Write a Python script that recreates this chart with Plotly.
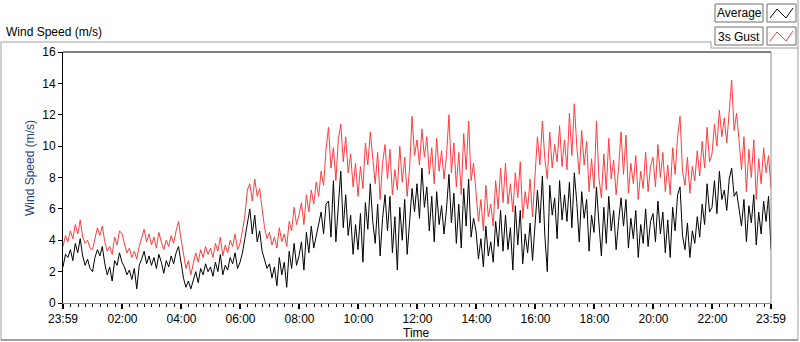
import plotly.graph_objects as go
import pandas as pd

# 5-minute samples from 23:59 (previous day) to 23:59, one row of 12 values per hour
gust_3s = [
    3.6, 4.3, 3.9, 4.6, 4.1, 5.0, 4.4, 5.3, 4.2, 3.8, 4.0, 3.5,
    3.4, 4.1, 4.8, 4.3, 4.9, 3.9, 3.3, 3.6, 3.1, 4.2, 3.7, 4.6,
    4.4, 3.8, 3.2, 3.5, 2.9, 3.3, 2.8, 3.6, 4.1, 4.7, 3.9, 4.4,
    3.7, 4.2, 3.5, 4.5, 3.9, 3.4, 4.0, 3.6, 4.3, 3.8, 4.6, 5.2,
    4.1, 3.0, 2.2, 2.7, 1.8, 2.5, 3.2, 2.6, 3.4, 2.9, 3.6, 3.1,
    3.5, 2.9, 3.8, 3.3, 4.2, 3.0, 3.7, 3.2, 4.0, 3.6, 4.4, 3.4,
    3.8, 4.6, 5.6, 7.2, 7.6, 6.5, 7.9, 6.8, 7.3, 6.0, 4.8, 4.1,
    4.5, 3.7, 4.2, 3.5, 4.8, 3.9, 4.4, 3.6, 5.2, 4.6, 6.1, 5.0,
    5.6, 6.4, 5.0, 6.9, 5.8, 7.2, 6.3, 7.7, 6.8, 8.4, 7.5, 9.8,
    11.2, 8.6, 9.9, 7.8, 10.4, 11.4, 9.0, 10.6, 8.3, 9.5, 7.4, 8.9,
    6.8, 8.7, 7.3, 10.2, 8.8, 10.9, 9.1, 7.6, 9.6, 6.6, 8.9, 10.1,
    7.9, 9.8, 6.9, 8.5, 7.2, 10.0, 7.7, 9.3, 6.8, 8.6, 11.9, 9.4,
    10.4, 8.8, 11.1, 9.3, 10.6, 8.2, 9.9, 7.6, 10.5, 8.4, 9.7, 7.9,
    9.4, 12.0, 8.3, 10.2, 7.4, 9.6, 6.9, 10.8, 8.5, 11.6, 7.8, 8.9,
    7.1, 5.2, 6.6, 4.6, 7.5, 5.5, 6.3, 4.9, 7.8, 6.0, 8.6, 6.4,
    8.9, 6.3, 7.6, 5.8, 8.3, 6.7, 9.0, 5.4, 7.1, 6.0, 7.9, 5.5,
    8.1, 10.6, 8.8, 11.6, 9.2, 7.9, 10.9, 8.6, 10.1, 9.0, 11.3, 8.7,
    10.4, 8.5, 12.1, 9.4, 12.7, 10.0, 8.2, 11.0, 8.8, 10.3, 7.1, 9.2,
    7.3, 11.6, 8.0, 6.7, 9.5, 7.2, 10.5, 7.9, 9.1, 6.9, 8.6, 10.9,
    8.2, 10.7, 7.0, 8.9, 7.6, 9.4, 6.6, 8.4, 7.3, 9.6, 7.1, 8.7,
    9.3, 7.4, 10.1, 8.0, 9.6, 7.1, 8.8, 6.9, 9.9, 8.2, 10.6, 11.9,
    8.4, 7.5, 9.3, 7.0, 8.7, 7.8, 9.7, 8.1, 10.3, 8.6, 11.2, 9.0,
    9.5, 11.4, 10.0, 12.3, 10.6, 11.8, 10.2, 12.4, 14.2, 11.0, 12.1, 10.4,
    8.5, 10.6, 7.1, 9.8, 8.0, 10.4, 6.6, 9.2, 7.6, 9.9, 8.3, 9.4,
    7.3,
]

average = [
    2.3, 3.1, 2.9, 3.4, 2.7, 3.8, 3.2, 4.1, 3.0, 2.4, 2.8, 2.2,
    2.0, 2.9, 3.4, 3.0, 3.6, 2.5, 1.8, 2.3, 1.4, 2.7, 2.4, 3.2,
    2.6, 2.3, 1.8, 2.1, 1.5, 2.2, 0.9, 2.4, 2.8, 3.3, 2.5, 3.0,
    2.4, 2.9, 2.2, 3.1, 2.6, 1.9, 2.7, 2.3, 3.0, 2.5, 3.2, 3.6,
    2.6, 1.6, 1.0, 1.4, 0.9, 1.5, 2.0, 1.3, 2.2, 1.8, 2.5, 2.0,
    2.3, 1.7, 2.6, 2.0, 3.1, 1.8, 2.4, 2.1, 2.9, 2.5, 3.2, 2.2,
    2.6, 3.2, 4.1, 5.2, 6.0, 4.4, 5.6, 3.9, 4.6, 3.3, 2.8, 2.2,
    2.5, 1.6, 2.3, 1.1, 2.9, 1.8, 2.6, 1.0, 3.3, 2.2, 3.8, 2.4,
    3.0, 3.9, 2.1, 4.5, 3.2, 4.9, 3.5, 4.2, 5.1, 5.8, 4.4, 6.3,
    6.5, 4.2, 7.8, 3.9, 6.2, 8.4, 4.8, 6.9, 4.3, 5.6, 3.1, 5.0,
    3.4, 5.7, 2.6, 6.4, 4.7, 7.6, 5.2, 3.8, 6.3, 3.0, 5.4, 6.9,
    4.6, 6.8, 3.2, 5.5, 2.1, 6.1, 4.0, 6.6, 3.1, 5.2, 7.3, 5.8,
    7.6, 5.4, 8.6, 6.1, 7.4, 4.6, 6.8, 3.9, 7.1, 5.0, 6.2, 4.4,
    6.0, 8.2, 5.1, 7.0, 3.8, 6.3, 3.5, 7.3, 4.9, 7.9, 4.2, 5.4,
    4.6, 2.8, 4.1, 2.3, 4.9, 3.0, 3.9, 2.6, 5.2, 3.6, 5.9, 3.3,
    5.6, 3.4, 4.8, 2.1, 6.2, 3.7, 5.9, 2.5, 4.4, 3.2, 5.1, 2.7,
    4.8, 7.2, 5.1, 8.1, 4.3, 2.0, 7.5, 5.6, 6.7, 4.1, 7.8, 5.3,
    6.9, 5.2, 7.7, 4.8, 8.3, 6.4, 3.9, 7.1, 5.4, 6.6, 3.3, 5.6,
    4.5, 7.4, 5.1, 3.0, 6.1, 3.8, 6.8, 4.6, 5.9, 3.4, 5.2, 6.7,
    4.9, 6.6, 3.5, 5.4, 4.1, 5.9, 2.9, 5.0, 3.8, 6.0, 3.6, 5.2,
    5.7, 3.9, 6.5, 4.4, 5.8, 3.2, 5.3, 2.9, 6.1, 4.6, 6.9, 7.4,
    4.3, 3.4, 5.1, 2.9, 4.6, 3.8, 5.5, 4.2, 6.3, 5.0, 7.6, 5.8,
    6.1, 7.8, 5.7, 8.4, 6.6, 7.2, 5.9, 7.9, 8.6, 6.8, 7.1, 5.9,
    4.9, 6.6, 3.9, 6.2, 5.1, 6.9, 3.7, 5.8, 4.4, 6.5, 5.2, 6.8,
    3.4,
]

start_time = "2023-01-01 23:59"
end_time = "2023-01-02 23:59"
times = pd.date_range(start_time, periods=len(average), freq="5min")

tick_times = [start_time] + [f"2023-01-02 {h:02d}:00" for h in range(2, 23, 2)] + [end_time]
tick_labels = ["23:59"] + [f"{h:02d}:00" for h in range(2, 23, 2)] + ["23:59"]

y_ticks = list(range(0, 17, 2))

FONT = "Liberation Sans"
RED = "#ff3c3c"
GRAY = "#8c8c8c"

fig = go.Figure()
fig.add_trace(go.Scatter(x=times, y=gust_3s, mode="lines", name="3s Gust",
                         line=dict(color=RED, width=1), showlegend=False))
fig.add_trace(go.Scatter(x=times, y=average, mode="lines", name="Average",
                         line=dict(color="black", width=1), showlegend=False))

# layout geometry (pixels)
L, R, T, B = 63, 771, 52, 303
W, H = 800, 342


def px(x):
    return (x - L) / (R - L)


def py(y):
    return (B - y) / (B - T)


shapes = []


def seg(x0, y0, x1, y1, color, width=1):
    shapes.append(dict(type="line", xref="paper", yref="paper",
                       x0=px(x0), y0=py(y0), x1=px(x1), y1=py(y1),
                       line=dict(color=color, width=width), layer="above"))


# plot frame
seg(L, T, R, T, "black")
seg(R, T, R, B, GRAY)
# outer panel frame
seg(1, 42, 711, 42, "#a0a0a0")
seg(711, 42, 711, 48, "#a0a0a0")
seg(711, 48, 798, 48, "#a0a0a0")
seg(798, 0, 798, 340, "#a0a0a0")
seg(1, 42, 1, 340, "#a0a0a0")
seg(1, 340, 798, 340, "#404040")

# legend boxes
for (ytop, label, col) in [(4, "Average", "black"), (27, "3s Gust", RED)]:
    shapes.append(dict(type="rect", xref="paper", yref="paper",
                       x0=px(715), x1=px(763), y0=py(ytop), y1=py(ytop + 18),
                       line=dict(color="#6e6e6e", width=1), fillcolor="white"))
    shapes.append(dict(type="rect", xref="paper", yref="paper",
                       x0=px(767), x1=px(796), y0=py(ytop), y1=py(ytop + 18),
                       line=dict(color="#6e6e6e", width=1), fillcolor="white"))
    pts = [(770, ytop + 14), (777, ytop + 5), (786, ytop + 14), (793, ytop + 4)]
    path = "M " + " L ".join(f"{px(a)},{py(b)}" for a, b in pts)
    shapes.append(dict(type="path", xref="paper", yref="paper", path=path,
                       line=dict(color=col, width=1)))

annotations = [
    dict(text="Wind Speed (m/s)", x=px(4), y=py(32), xref="paper", yref="paper",
         xanchor="left", yanchor="middle", showarrow=False,
         font=dict(family=FONT, size=12, color="black")),
    dict(text="Average", x=px(739), y=py(13.5), xref="paper", yref="paper",
         xanchor="center", yanchor="middle", showarrow=False,
         font=dict(family=FONT, size=12, color="black")),
    dict(text="3s Gust", x=px(739), y=py(36.5), xref="paper", yref="paper",
         xanchor="center", yanchor="middle", showarrow=False,
         font=dict(family=FONT, size=12, color="black")),
    dict(text="Wind Speed (m/s)", x=px(30), y=py(168), xref="paper", yref="paper",
         xanchor="center", yanchor="middle", showarrow=False, textangle=-90,
         font=dict(family=FONT, size=12, color="#1f3f7f")),
    dict(text="Time", x=px(416), y=py(333), xref="paper", yref="paper",
         xanchor="center", yanchor="middle", showarrow=False,
         font=dict(family=FONT, size=12, color="black")),
]

fig.update_layout(
    width=W, height=H,
    margin=dict(l=L, r=W - R, t=T, b=H - B, pad=0),
    paper_bgcolor="white", plot_bgcolor="white",
    font=dict(family=FONT, size=12, color="black"),
    showlegend=False,
    shapes=shapes,
    annotations=annotations,
    xaxis=dict(
        type="date", range=[start_time, end_time],
        tickvals=tick_times, ticktext=tick_labels,
        ticks="outside", ticklen=5, tickwidth=2, tickcolor="black",
        showgrid=False, zeroline=False,
        showline=True, linecolor=GRAY, linewidth=1,
        tickfont=dict(family=FONT, size=12, color="black"),
        minor=dict(ticks="outside", ticklen=3, tickwidth=1, tickcolor="black",
                   dtick=15 * 60 * 1000, tick0="2023-01-01 00:00", showgrid=False),
    ),
    yaxis=dict(
        range=[0, 16], tickvals=y_ticks,
        ticks="outside", ticklen=4, tickwidth=1, tickcolor="black",
        showgrid=False, zeroline=False,
        showline=True, linecolor="black", linewidth=1,
        tickfont=dict(family=FONT, size=12, color="black"),
    ),
)

fig.write_html("out.html", config={"displayModeBar": False},
               post_script="document.body.style.margin='0';")
